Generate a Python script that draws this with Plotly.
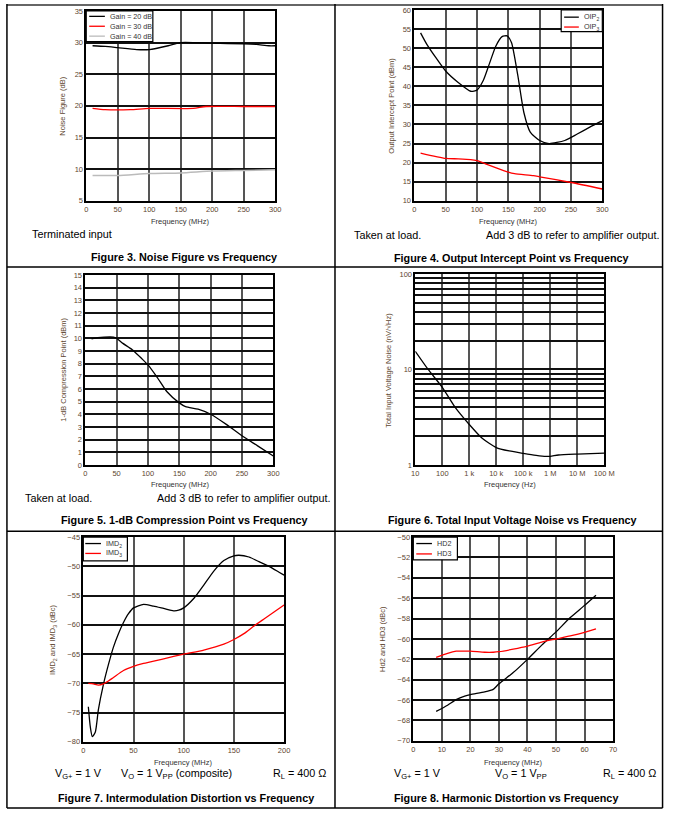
import plotly.graph_objects as go

W, H = 675, 824
FONT = "Liberation Sans, Arial, sans-serif"
TICKC = "#5e4630"

# ---------------- data ----------------
# Figure 3: Noise figure vs frequency
nf_g20_f = [10, 30, 50, 80, 100, 130, 150, 200, 250, 270, 290, 300]
nf_g20 = [29.5, 29.4, 29.2, 28.9, 28.9, 29.5, 30.0, 29.9, 29.8, 29.7, 29.5, 29.5]
nf_g30_f = [10, 30, 70, 100, 170, 190, 250, 300]
nf_g30 = [19.6, 19.4, 19.4, 19.6, 19.6, 19.9, 19.9, 19.9]
nf_g40_f = [10, 50, 100, 150, 200, 250, 300]
nf_g40 = [9.0, 9.0, 9.3, 9.4, 9.7, 9.8, 9.9]

# Figure 4: Output intercept point
oip_f2 = [10, 20, 50, 70, 90, 100, 110, 120, 130, 140, 148, 155, 165, 175, 185, 200, 215, 240, 260, 280, 300]
oip2 = [54.0, 51.0, 44.0, 41.0, 38.7, 39.0, 41.5, 46.0, 50.5, 53.0, 53.2, 51.5, 43.0, 33.0, 28.0, 25.8, 25.0, 25.8, 27.5, 29.3, 31.0]
oip_f3 = [10, 50, 70, 90, 100, 120, 150, 160, 190, 200, 250, 300]
oip3 = [22.5, 21.1, 21.0, 20.8, 20.5, 19.3, 17.5, 17.1, 16.6, 16.3, 14.8, 13.1]

# Figure 5: 1-dB compression point
p1db_f = [10, 20, 30, 45, 50, 60, 75, 90, 100, 115, 130, 150, 160, 180, 200, 225, 250, 275, 300]
p1db = [9.95, 10.05, 10.1, 10.1, 10.0, 9.6, 9.1, 8.4, 7.9, 6.9, 5.8, 4.9, 4.6, 4.4, 4.0, 3.2, 2.3, 1.5, 0.7]

# Figure 6: Total input voltage noise
vn_f = [10, 30, 100, 300, 1e3, 3e3, 1e4, 3e4, 1e5, 3e5, 7e5, 1e6, 2e6, 1e7, 1e8]
vn = [15.5, 10.0, 6.5, 4.0, 2.65, 1.9, 1.52, 1.4, 1.32, 1.26, 1.23, 1.23, 1.27, 1.3, 1.33]
vn_xtick_vals = [10, 100, 1e3, 1e4, 1e5, 1e6, 1e7, 1e8]
vn_xtick_text = ["10", "100", "1 k", "10 k", "100 k", "1 M", "10 M", "100 M"]

# Figure 7: Intermodulation distortion
imd_f2 = [5, 7, 9, 12, 15, 20, 25, 30, 35, 40, 45, 50, 60, 70, 80, 90, 95, 100, 110, 120, 130, 140, 150, 155, 165, 175, 185, 195, 200]
imd2 = [-74.0, -77.5, -79.1, -78.3, -74.5, -70.2, -66.8, -63.8, -61.5, -59.6, -58.1, -57.1, -56.5, -56.8, -57.2, -57.6, -57.5, -57.1, -55.5, -53.2, -50.8, -49.0, -48.2, -48.1, -48.4, -49.2, -50.0, -51.0, -51.5]
imd_f3 = [5, 10, 15, 20, 25, 30, 40, 50, 60, 80, 100, 120, 140, 150, 160, 170, 180, 190, 200]
imd3 = [-70.0, -70.1, -70.3, -70.1, -69.6, -69.0, -67.8, -67.1, -66.6, -65.8, -65.0, -64.3, -63.3, -62.5, -61.5, -60.2, -59.0, -57.8, -56.6]

# Figure 8: Harmonic distortion
hd_f = [8, 12, 15, 18, 20, 25, 28, 30, 35, 40, 45, 50, 55, 60, 64]
hd2 = [-67.1, -66.5, -65.95, -65.6, -65.45, -65.2, -64.95, -64.4, -63.3, -62.0, -60.6, -59.3, -57.9, -56.7, -55.7]
hd3 = [-61.8, -61.4, -61.2, -61.2, -61.2, -61.3, -61.3, -61.25, -61.0, -60.7, -60.3, -60.0, -59.7, -59.35, -59.0]

# ---------------- helpers ----------------
def px(x):
    return x / W

def py(y):
    return 1 - y / H

fig = go.Figure()
shapes = []
annos = []

def add_axes(i, x0, x1, y0, y1, xkw, ykw):
    sfx = "" if i == 1 else str(i)
    base = dict(showline=True, linecolor="black", linewidth=1.5, mirror=True,
                showgrid=True, zeroline=False, ticks="",
                tickfont=dict(size=7.5, color=TICKC, family=FONT), fixedrange=True)
    xa = dict(base, domain=[px(x0), px(x1)], anchor="y" + sfx, gridcolor="#555555", gridwidth=2)
    xa.update(xkw)
    ya = dict(base, domain=[py(y1), py(y0)], anchor="x" + sfx, gridcolor="#111111", gridwidth=1.5)
    ya.update(ykw)
    fig.layout["xaxis" + sfx] = xa
    fig.layout["yaxis" + sfx] = ya

def trace(i, x, y, color, width=1.3):
    sfx = "" if i == 1 else str(i)
    fig.add_trace(go.Scatter(x=x, y=y, mode="lines", line=dict(color=color, width=width, shape="spline", smoothing=0.6),
                             xaxis="x" + sfx, yaxis="y" + sfx, showlegend=False, hoverinfo="skip"))

def text(x, y, s, size=7.5, color="#333333", xanchor="center", angle=0, bold=False):
    if bold:
        s = "<b>" + s + "</b>"
    annos.append(dict(x=px(x), y=py(y), xref="paper", yref="paper", text=s, showarrow=False,
                      xanchor=xanchor, yanchor="middle", textangle=angle,
                      font=dict(size=size, color=color, family=FONT)))

def legend(box, entries, lx0, lx1, tx):
    bx0, by0, bx1, by1 = box
    shapes.append(dict(type="rect", xref="paper", yref="paper", x0=px(bx0), x1=px(bx1), y0=py(by1), y1=py(by0),
                       fillcolor="white", line=dict(color="black", width=1.2), layer="above"))
    for yy, label, col in entries:
        shapes.append(dict(type="line", xref="paper", yref="paper", x0=px(lx0), x1=px(lx1), y0=py(yy), y1=py(yy),
                           line=dict(color=col, width=1.3), layer="above"))
        text(tx, yy, label, size=7.2, color="#333333", xanchor="left")

# ---------------- Figure 3 ----------------
add_axes(1, 84, 277, 7, 199,
         dict(range=[0, 300], dtick=50, tick0=0),
         dict(range=[5, 35], dtick=5, tick0=5))
trace(1, nf_g20_f, nf_g20, "black")
trace(1, nf_g30_f, nf_g30, "#ff0000")
trace(1, nf_g40_f, nf_g40, "#bbbbbb", 1.5)
legend((84, 7, 152, 38), [(12.5, "Gain = 20 dB", "black"), (22.5, "Gain = 30 dB", "#ff0000"), (32.5, "Gain = 40 dB", "#bbbbbb")], 87, 103, 106)
text(60, 103, "Noise Figure (dB)", angle=-90, color=TICKC)
text(180, 220, "Frequency (MHz)")

# ---------------- Figure 4 ----------------
add_axes(2, 419, 611, 6, 199,
         dict(range=[0, 300], dtick=50, tick0=0),
         dict(range=[10, 60], dtick=5, tick0=10))
trace(2, oip_f2, oip2, "black")
trace(2, oip_f3, oip3, "#ff0000")
legend((569, 6, 611, 28), [(13.3, "OIP<sub>2</sub>", "black"), (23.3, "OIP<sub>3</sub>", "#ff0000")], 572, 587, 590)
text(396, 103, "Output Intercept Point (dBm)", angle=-90, color=TICKC)
text(515, 220, "Frequency (MHz)")

# ---------------- Figure 5 ----------------
add_axes(3, 83, 275, 274, 466,
         dict(range=[0, 300], dtick=50, tick0=0),
         dict(range=[0, 15], dtick=1, tick0=0))
trace(3, p1db_f, p1db, "black")
text(61, 370, "1-dB Compression Point (dBm)", angle=-90, color=TICKC)
text(180, 486, "Frequency (MHz)")

# ---------------- Figure 6 ----------------
yv = [1, 2, 3, 4, 5, 6, 7, 8, 9, 10, 20, 30, 40, 50, 60, 70, 80, 90, 100]
yt = [str(v) if v in (1, 10, 100) else "" for v in yv]
add_axes(4, 420, 613, 273, 466,
         dict(type="log", range=[1, 8], tickvals=vn_xtick_vals, ticktext=vn_xtick_text),
         dict(type="log", range=[0, 2], tickvals=yv, ticktext=yt))
trace(4, vn_f, vn, "black")
text(393, 370, "Total Input Voltage Noise (nV/√Hz)", angle=-90, color=TICKC)
text(517, 486, "Frequency (Hz)")

# ---------------- Figure 7 ----------------
add_axes(5, 81, 286, 539, 746,
         dict(range=[0, 200], dtick=50, tick0=0),
         dict(range=[-80, -45], dtick=5, tick0=-80))
trace(5, imd_f2, imd2, "black")
trace(5, imd_f3, imd3, "#ff0000")
legend((81, 539, 126, 563), [(545.5, "IMD<sub>2</sub>", "black"), (555.5, "IMD<sub>3</sub>", "#ff0000")], 83, 99, 102)
text(50, 642, "IMD<sub>2</sub> and IMD<sub>3</sub> (dBc)", angle=-90, color=TICKC)
text(183, 767, "Frequency (MHz)")

# ---------------- Figure 8 ----------------
add_axes(6, 418, 622, 539, 745,
         dict(range=[0, 70], dtick=10, tick0=0),
         dict(range=[-70, -50], dtick=2, tick0=-70))
trace(6, hd_f, hd2, "black")
trace(6, hd_f, hd3, "#ff0000")
legend((418, 539, 463, 562), [(545.5, "HD2", "black"), (556, "HD3", "#ff0000")], 421, 437, 440)
text(387, 642, "Hd2 and HD3 (dBc)", angle=-90, color=TICKC)
text(520, 767, "Frequency (MHz)")

# ---------------- captions & table borders ----------------
CS = 10.8
text(27, 233, "Terminated input", size=CS, color="black", xanchor="left")
text(184, 256, "Figure 3. Noise Figure vs Frequency", size=CS, color="black", bold=True)
text(355, 234, "Taken at load.", size=CS, color="black", xanchor="left")
text(490, 234, "Add 3 dB to refer to amplifier output.", size=CS, color="black", xanchor="left")
text(518, 257, "Figure 4. Output Intercept Point vs Frequency", size=CS, color="black", bold=True)

text(19, 499, "Taken at load.", size=CS, color="black", xanchor="left")
text(154, 499, "Add 3 dB to refer to amplifier output.", size=CS, color="black", xanchor="left")
text(184, 522, "Figure 5. 1-dB Compression Point vs Frequency", size=CS, color="black", bold=True)
text(519, 522, "Figure 6. Total Input Voltage Noise vs Frequency", size=CS, color="black", bold=True)

text(50, 779, "V<sub>G+</sub> = 1 V", size=CS, color="black", xanchor="left")
text(117, 779, "V<sub>O</sub> = 1 V<sub>PP</sub> (composite)", size=CS, color="black", xanchor="left")
text(273, 779, "R<sub>L</sub> = 400 Ω", size=CS, color="black", xanchor="left")
text(186, 803, "Figure 7. Intermodulation Distortion vs Frequency", size=CS, color="black", bold=True)
text(396, 779, "V<sub>G+</sub> = 1 V", size=CS, color="black", xanchor="left")
text(499, 779, "V<sub>O</sub> = 1 V<sub>PP</sub>", size=CS, color="black", xanchor="left")
text(610, 779, "R<sub>L</sub> = 400 Ω", size=CS, color="black", xanchor="left")
text(513, 803, "Figure 8. Harmonic Distortion vs Frequency", size=CS, color="black", bold=True)

def hline(y, x0=3, x1=672.5, color="black", w=1.5):
    shapes.append(dict(type="line", xref="paper", yref="paper", x0=px(x0), x1=px(x1), y0=py(y), y1=py(y),
                       line=dict(color=color, width=w), layer="above"))

def vline(x, y0=0, y1=813, color="black", w=1.5):
    shapes.append(dict(type="line", xref="paper", yref="paper", x0=px(x), x1=px(x), y0=py(y0), y1=py(y1),
                       line=dict(color=color, width=w), layer="above"))

hline(1, color="#666666", w=2)
hline(266)
hline(533)
hline(813)
vline(3)
vline(338)
vline(672.5)

fig.update_layout(width=W, height=H, margin=dict(l=0, r=0, t=0, b=0),
                  paper_bgcolor="white", plot_bgcolor="white",
                  shapes=shapes, annotations=annos, showlegend=False,
                  font=dict(family=FONT))
fig.write_html("out.html", config={"displayModeBar": False},
               post_script="document.body.style.margin='0px';document.body.style.overflow='hidden';")
